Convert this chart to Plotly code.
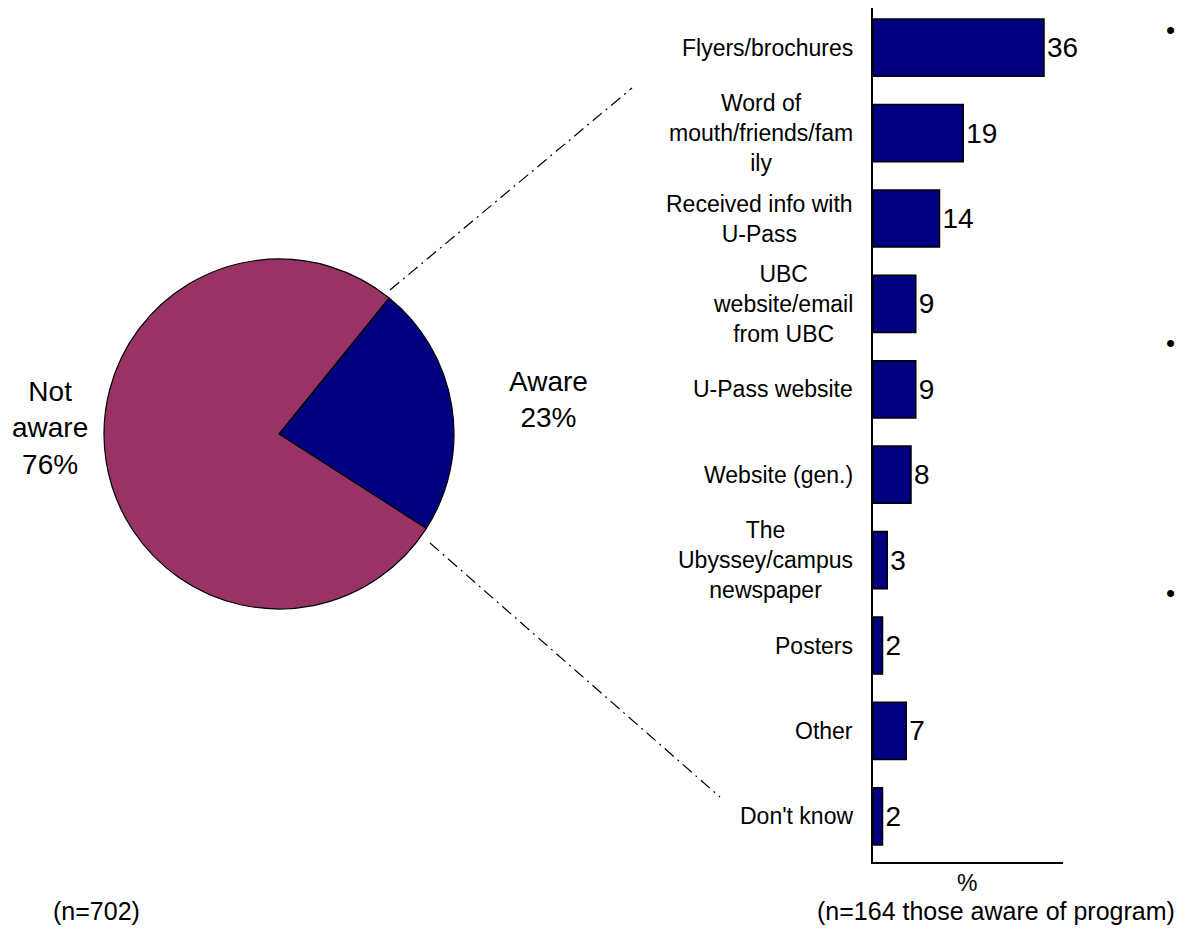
import plotly.graph_objects as go

# pie data
pie_labels = ["Aware", "Not aware"]
pie_values = [23, 76]
pie_colors = ["#000080", "#993366"]

# bar data (sources of awareness, % of those aware)
sources = [
    "Flyers/brochures",
    "Word of<br>mouth/friends/fam<br>ily",
    "Received info with<br>U-Pass",
    "UBC<br>website/email<br>from UBC",
    "U-Pass website",
    "Website (gen.)",
    "The<br>Ubyssey/campus<br>newspaper",
    "Posters",
    "Other",
    "Don't know",
]
source_pct = [36, 19, 14, 9, 9, 8, 3, 2, 7, 2]

# page body has an 8px margin, so the figure is drawn 8px in from the corner
OFF = 8
W, H = 1188 - OFF, 940 - OFF
FONT = "Liberation Sans, Arial, sans-serif"


def px_x(x):
    return (x - OFF) / W


def px_y(y):
    return 1 - (y - OFF) / H


fig = go.Figure()

fig.add_trace(
    go.Pie(
        labels=pie_labels,
        values=pie_values,
        marker=dict(colors=pie_colors, line=dict(color="black", width=1.2)),
        sort=False,
        direction="clockwise",
        rotation=39,
        textinfo="none",
        hoverinfo="label+percent",
        showlegend=False,
        domain=dict(x=[px_x(104), px_x(454)], y=[px_y(609), px_y(259)]),
    )
)

fig.add_trace(
    go.Bar(
        x=source_pct,
        y=sources,
        orientation="h",
        marker=dict(color="#000080", line=dict(color="black", width=1.5)),
        text=[str(v) for v in source_pct],
        textposition="outside",
        textfont=dict(size=28, color="black", family=FONT),
        cliponaxis=False,
        showlegend=False,
    )
)

# category labels, centred lines, right edge by the axis
annotations = []
for s in sources:
    annotations.append(
        dict(
            x=0, y=s, xref="x", yref="y",
            text=s, showarrow=False,
            xanchor="right", yanchor="middle", align="center",
            xshift=-18,
            font=dict(size=23, color="black", family=FONT),
        )
    )


def note(x, y, text, size, xanchor="center"):
    return dict(x=px_x(x), y=px_y(y), xref="paper", yref="paper",
                text=text, showarrow=False, xanchor=xanchor, yanchor="middle",
                align="center", font=dict(size=size, color="black", family=FONT))


# axis title
annotations.append(note(967, 883, "%", 23))

# pie labels
annotations.append(note(50, 428, "Not<br>aware<br>76%", 28))
annotations.append(note(548, 399, "Aware<br>23%", 28))

# footnotes
annotations.append(note(96, 911, "(n=702)", 25))
annotations.append(note(1177, 911, "(n=164 those aware of program)", 25, "right"))

# slide bullets on the right edge
for by in [30, 343, 593]:
    annotations.append(note(1170, by, "•", 26))

# dash-dot connector lines from pie to bars
shapes = [
    dict(type="line", xref="paper", yref="paper",
         x0=px_x(390), y0=px_y(290), x1=px_x(632), y1=px_y(88),
         line=dict(color="black", width=1.2, dash="12px,5px,2px,5px")),
    dict(type="line", xref="paper", yref="paper",
         x0=px_x(430), y0=px_y(543), x1=px_x(720), y1=px_y(797),
         line=dict(color="black", width=1.2, dash="12px,5px,2px,5px")),
]

fig.update_layout(
    width=W,
    height=H,
    margin=dict(l=0, r=0, t=0, b=0),
    paper_bgcolor="white",
    plot_bgcolor="white",
    font=dict(family=FONT, color="black"),
    bargap=0.33,
    annotations=annotations,
    shapes=shapes,
    xaxis=dict(
        domain=[px_x(873), px_x(1063)],
        range=[0, 40],
        showgrid=False,
        zeroline=False,
        showline=True,
        linecolor="black",
        linewidth=1.5,
        showticklabels=False,
        ticks="",
        fixedrange=True,
    ),
    yaxis=dict(
        domain=[px_y(862), px_y(8)],
        range=[9.5 + 0.035, -0.5 + 0.035],
        showgrid=False,
        zeroline=False,
        showline=True,
        linecolor="black",
        linewidth=1.5,
        showticklabels=False,
        ticks="",
        fixedrange=True,
    ),
)

fig.write_html("out.html")
